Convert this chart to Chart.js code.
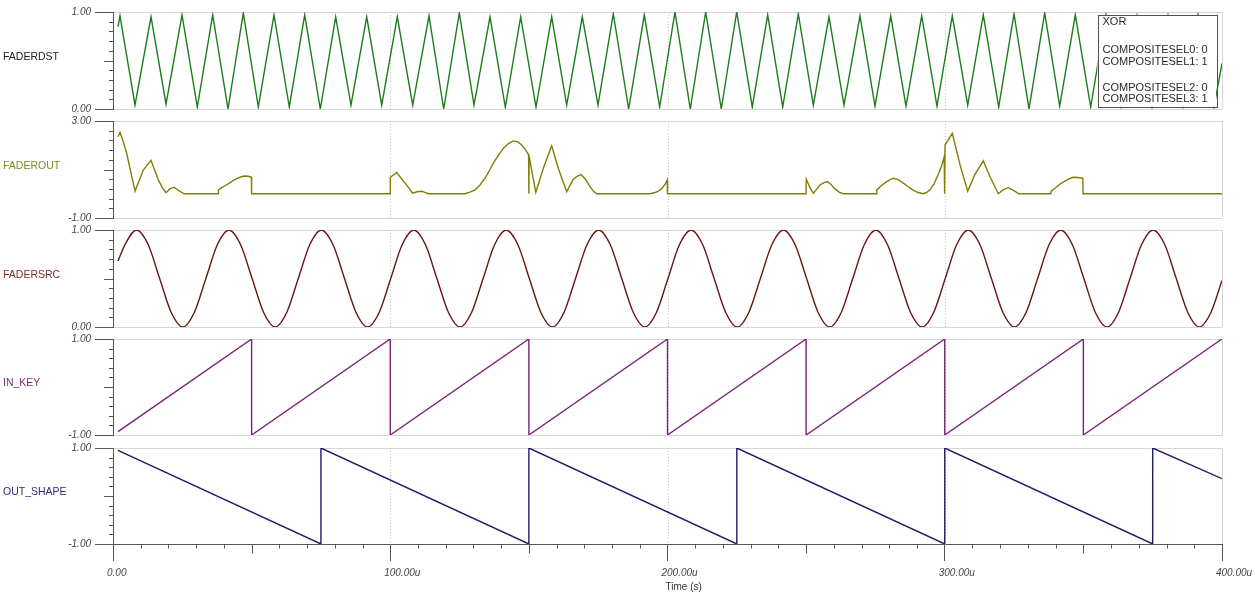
<!DOCTYPE html>
<html>
<head>
<meta charset="utf-8">
<script src="https://cdn.jsdelivr.net/npm/chart.js@4.4.0/dist/chart.umd.min.js"></script>
<style>
html,body{margin:0;padding:0;background:#fff;width:1255px;height:600px;overflow:hidden;}
canvas{position:absolute;left:0;}
</style>
</head>
<body>
<canvas id="c0"></canvas>
<canvas id="c1"></canvas>
<canvas id="c2"></canvas>
<canvas id="c3"></canvas>
<canvas id="c4"></canvas>
<script>
// ---------------- DATA ----------------
const timeTicks = [0, 100, 200, 300, 400];
const timeTickLabels = ['0.00', '100.00u', '200.00u', '300.00u', '400.00u'];
const timeTitle = 'Time (s)';
const gridTimes = [100, 200, 300];

const panelNames = ['FADERDST', 'FADEROUT', 'FADERSRC', 'IN_KEY', 'OUT_SHAPE'];
const panelMin = [0, -1, 0, -1, -1];
const panelMax = [1, 3, 1, 1, 1];

const legendLines = ['XOR', 'COMPOSITESEL0: 0', 'COMPOSITESEL1: 1', 'COMPOSITESEL2: 0', 'COMPOSITESEL3: 1'];

// FADERDST (triangle wave, vertices)
const dstT = [1.8, 2.52,7.94, 13.71,19.12, 24.89,30.41, 35.96,41.48, 47.00,52.41, 58.07,63.59, 69.14,74.77,
  80.32,85.84, 91.51,96.92, 102.54,108.10, 113.98,119.28, 124.90,130.21, 135.98,141.50, 147.05,152.57,
  158.23,163.64, 169.27,174.93, 180.45,186.00, 191.63,197.18, 202.70,208.22, 213.78,219.40, 224.96,230.58,
  236.14,241.55, 247.18,252.59, 258.25,263.66, 269.43,274.84, 280.51,286.02, 291.69,297.20, 302.72,308.28,
  313.90,319.46, 324.98,330.39, 336.05,341.46, 347.09,352.64, 358.16,363.57, 369.34,374.75, 380.52,385.93,
  391.34,397.11, 400];
const dstV = [0.85,
  0.96,0.04, 0.95,0.05, 0.97,0.02, 0.97,0.00, 0.99,0.02, 0.97,0.02, 0.97,0.00, 0.95,0.04, 0.95,0.04,
  0.95,0.04, 0.96,0.00, 0.99,0.04, 0.95,0.02, 0.95,0.02, 0.95,0.04, 0.95,0.04, 0.98,0.00, 0.97,0.02,
  1.00,0.00, 1.00,0.00, 1.00,0.02, 0.97,0.02, 0.98,0.04,
  0.95,0.04, 0.96,0.03, 0.96,0.03, 0.96,0.03, 0.96,0.04, 0.97,0.02, 0.98,0.00, 0.99,0.03, 0.97,0.02,
  0.97,0.03, 0.96,0.02, 0.96,0.03, 0.97,0.02,
  0.47];

// FADEROUT
const outT = [1.8, 2.52, 3.70, 4.94, 6.40, 7.94, 10.93, 13.71, 16.35, 17.80, 19.12, 20.56, 22.00, 23.50, 25.61,
  37.98, 38.05, 39.20, 40.50, 41.80, 43.00, 44.40, 45.80, 46.70, 47.60, 48.80, 49.90, 50.00,
  99.95, 100.02, 102.33, 103.52, 105.32, 108.10, 109.70, 111.34, 112.50, 113.72,
  126.96, 128.76, 130.57, 132.40, 134.18, 135.70, 137.17, 139.00, 140.78, 142.60, 144.38, 146.00, 147.41, 148.60,
  149.57, 149.90, 150.00, 150.10,
  152.48, 155.37, 158.23, 160.60, 163.64, 166.00, 167.40, 168.80, 170.40, 172.05, 173.30, 174.46,
  193.69, 195.20, 196.57, 197.60, 198.38, 199.20, 199.90, 200.00,
  249.95, 250.05, 251.40, 252.59, 253.92, 255.01, 256.30, 257.63, 259.00, 260.41, 261.90, 263.41,
  275.40, 275.50, 277.00, 278.45, 280.00, 281.44, 283.20, 284.94, 286.70, 288.55, 290.40, 292.26,
  293.50, 294.68, 296.20, 297.67, 298.80, 299.80, 299.95, 300.10,
  302.72, 305.50, 308.28, 310.91, 313.90, 316.32, 319.31, 321.10, 322.92, 324.80, 326.78,
  338.20, 338.30, 340.00, 341.57, 343.50, 345.00, 346.37, 348.00, 349.80, 349.90, 400.00];
const outV = [2.35, 2.53, 2.15, 1.67, 0.90, 0.11, 0.98, 1.38, 0.57, 0.25, 0.04, 0.20, 0.27, 0.15, 0.00,
  0.00, 0.16, 0.25, 0.33, 0.43, 0.52, 0.61, 0.68, 0.71, 0.73, 0.72, 0.68, 0.00,
  0.00, 0.68, 0.88, 0.70, 0.45, 0.02, 0.08, 0.10, 0.06, 0.00,
  0.00, 0.07, 0.16, 0.36, 0.64, 0.94, 1.26, 1.58, 1.87, 2.07, 2.18, 2.14, 2.01, 1.85,
  1.67, 1.62, 0.00, 1.55,
  0.06, 1.10, 1.98, 1.05, 0.08, 0.60, 0.72, 0.79, 0.60, 0.29, 0.10, 0.00,
  0.00, 0.04, 0.10, 0.18, 0.28, 0.41, 0.57, 0.00,
  0.00, 0.60, 0.25, 0.02, 0.20, 0.36, 0.45, 0.50, 0.38, 0.20, 0.07, 0.00,
  0.00, 0.16, 0.32, 0.45, 0.56, 0.64, 0.58, 0.45, 0.30, 0.15, 0.05, 0.00,
  0.06, 0.16, 0.42, 0.80, 1.12, 1.53, 0.00, 2.01,
  2.49, 1.20, 0.11, 0.80, 1.36, 0.70, 0.00, 0.17, 0.25, 0.14, 0.00,
  0.00, 0.10, 0.25, 0.40, 0.53, 0.62, 0.68, 0.67, 0.64, 0.00, 0.00];

// FADERSRC (sine-like wave, read at eighth-period points)
const srcT = [1.8,
  4.33, 8.50, 12.67, 16.83, 21.00, 25.17, 29.33, 33.50, 37.67, 41.83, 46.00, 50.17, 54.33, 58.50, 62.67, 66.83,
  71.00, 75.17, 79.33, 83.50, 87.67, 91.83, 96.00, 100.17, 104.33, 108.50, 112.67, 116.83, 121.00, 125.17, 129.33, 133.50,
  137.67, 141.83, 146.00, 150.17, 154.33, 158.50, 162.67, 166.83, 171.00, 175.17, 179.33, 183.50, 187.67, 191.83, 196.00, 200.17,
  204.33, 208.50, 212.67, 216.83, 221.00, 225.17, 229.33, 233.50, 237.67, 241.83, 246.00, 250.17, 254.33, 258.50, 262.67, 266.83,
  271.00, 275.17, 279.33, 283.50, 287.67, 291.83, 296.00, 300.17, 304.33, 308.50, 312.67, 316.83, 321.00, 325.17, 329.33, 333.50,
  337.67, 341.83, 346.00, 350.17, 354.33, 358.50, 362.67, 366.83, 371.00, 375.17, 379.33, 383.50, 387.67, 391.83, 396.00,
  400];
const srcV = [0.68,
  0.85, 1.00, 0.85, 0.50, 0.15, 0.00, 0.15, 0.50, 0.85, 1.00, 0.85, 0.50, 0.15, 0.00, 0.15, 0.50,
  0.85, 1.00, 0.85, 0.50, 0.15, 0.00, 0.15, 0.50, 0.85, 1.00, 0.85, 0.50, 0.15, 0.00, 0.15, 0.50,
  0.85, 1.00, 0.85, 0.50, 0.15, 0.00, 0.15, 0.50, 0.85, 1.00, 0.85, 0.50, 0.15, 0.00, 0.15, 0.50,
  0.85, 1.00, 0.85, 0.50, 0.15, 0.00, 0.15, 0.50, 0.85, 1.00, 0.85, 0.50, 0.15, 0.00, 0.15, 0.50,
  0.85, 1.00, 0.85, 0.50, 0.15, 0.00, 0.15, 0.50, 0.85, 1.00, 0.85, 0.50, 0.15, 0.00, 0.15, 0.50,
  0.85, 1.00, 0.85, 0.50, 0.15, 0.00, 0.15, 0.50, 0.85, 1.00, 0.85, 0.50, 0.15, 0.00, 0.15,
  0.48];

// IN_KEY (rising sawtooth)
const keyT = [1.8, 50, 50, 100, 100, 150, 150, 200, 200, 250, 250, 300, 300, 350, 350, 400];
const keyV = [-0.93, 1, -1, 1, -1, 1, -1, 1, -1, 1, -1, 1, -1, 1, -1, 1];

// OUT_SHAPE (falling sawtooth)
const shapeT = [1.8, 75, 75, 150, 150, 225, 225, 300, 300, 375, 375, 400];
const shapeV = [0.95, -1, 1, -1, 1, -1, 1, -1, 1, -1, 1, 0.36];

// ---------------- STYLE / LAYOUT ----------------
const FONT = '"Liberation Sans", Arial, sans-serif';
const lineColors = ['#1c7d1c', '#7f7f05', '#6b1515', '#78227a', '#1c1c6c'];
const nameColors = ['#222222', '#85852a', '#7a2e2e', '#7b2d7b', '#2e2e7a'];
const PANEL_TOP = [12, 121, 230, 339, 448];
const PANEL_BOTTOM = [109, 218, 327, 435, 544];
const GRID = '#d6d6d6';
const AXIS = '#555555';
const legendLineY = [6.4, 34.4, 46.4, 72.7, 83.9];

const seriesT = [dstT, outT, srcT, keyT, shapeT];
const seriesV = [dstV, outV, srcV, keyV, shapeV];

function pts(ts, vs) { return ts.map((t, i) => ({ x: t, y: vs[i] })); }

const decor = {
  id: 'decor',
  beforeDatasetsDraw(chart, args, o) {
    const { ctx, chartArea: a, scales } = chart;
    const x = scales.x, y = scales.y;
    ctx.save();
    ctx.lineWidth = 1;
    ctx.strokeStyle = GRID;
    const rx = Math.round(a.right) + 0.5;
    ctx.beginPath(); ctx.moveTo(rx, a.top); ctx.lineTo(rx, a.bottom); ctx.stroke();
    ctx.strokeStyle = '#c4c4c4';
    ctx.setLineDash([1, 2]);
    gridTimes.forEach(t => {
      const px = Math.round(x.getPixelForValue(t)) + 0.5;
      ctx.beginPath(); ctx.moveTo(px, a.top); ctx.lineTo(px, a.bottom); ctx.stroke();
    });
    ctx.setLineDash([]);
    ctx.strokeStyle = AXIS;
    for (let i = 1; i < 10; i++) {
      const v = y.min + i * (y.max - y.min) / 10;
      const py = Math.round(y.getPixelForValue(v)) + 0.5;
      const len = i === 5 ? 9 : 4;
      ctx.beginPath(); ctx.moveTo(a.left - len, py); ctx.lineTo(a.left, py); ctx.stroke();
    }
    if (o.xMinor) {
      const by = Math.round(a.bottom) + 0.5;
      for (let t = 10; t < 400; t += 10) {
        if (t % 100 === 0) continue;
        const px = Math.round(x.getPixelForValue(t)) + 0.5;
        const len = t % 50 === 0 ? 9 : 4;
        ctx.beginPath(); ctx.moveTo(px, by); ctx.lineTo(px, by + len); ctx.stroke();
      }
    }
    ctx.restore();
  },
  afterDraw(chart, args, o) {
    const { ctx, chartArea: a, scales } = chart;
    ctx.save();
    ctx.font = '10.5px ' + FONT;
    ctx.fillStyle = o.color;
    ctx.textAlign = 'left';
    ctx.textBaseline = 'middle';
    ctx.fillText(o.name, 3, (a.top + a.bottom) / 2 - 3.6);
    if (o.xMinor) {
      ctx.font = '10px ' + FONT;
      ctx.fillStyle = '#333';
      ctx.fillText(timeTitle, scales.x.getPixelForValue(200) - 2, a.bottom + 43);
    }
    if (o.legend) {
      const bx = a.right - 124.5, by = a.top + 3.3, bw = 118.5, bh = 91.5;
      ctx.fillStyle = '#ffffff';
      ctx.fillRect(bx, by, bw, bh);
      ctx.strokeStyle = '#505050';
      ctx.lineWidth = 1;
      ctx.strokeRect(Math.round(bx) + 0.5, Math.round(by) + 0.5, Math.round(bw), Math.round(bh));
      ctx.fillStyle = '#2a2a2a';
      ctx.font = '11px ' + FONT;
      legendLines.forEach((s, i) => ctx.fillText(s, bx + 5, by + legendLineY[i]));
    }
    ctx.restore();
  }
};

for (let k = 0; k < 5; k++) {
  const last = k === 4;
  const cv = document.getElementById('c' + k);
  const top = PANEL_TOP[k] - 10;
  const h = last ? 600 - top : PANEL_BOTTOM[k] - PANEL_TOP[k] + 20;
  cv.style.top = top + 'px';
  cv.width = 1255; cv.height = h;
  cv.style.width = '1255px'; cv.style.height = h + 'px';

  const xScale = last ? {
    type: 'linear', min: 0, max: 400, position: 'bottom',
    afterBuildTicks: s => { s.ticks = timeTicks.map(v => ({ value: v })); },
    afterFit: s => { s.height = 56; s.paddingLeft = 0; s.paddingRight = 0; },
    ticks: {
      autoSkip: false, maxRotation: 0, minRotation: 0, align: 'start', labelOffset: -6, padding: 6,
      color: '#444', font: { family: FONT, size: 10, style: 'italic' },
      callback: (v) => timeTickLabels[timeTicks.indexOf(v)]
    },
    grid: { drawOnChartArea: false, tickLength: 17, tickColor: AXIS, color: AXIS, lineWidth: 1 },
    border: { display: true, color: AXIS, width: 1 }
  } : { type: 'linear', min: 0, max: 400, display: false };

  new Chart(cv, {
    type: 'line',
    data: {
      datasets: [{
        label: panelNames[k],
        data: pts(seriesT[k], seriesV[k]),
        borderColor: lineColors[k],
        borderWidth: 1.4,
        pointRadius: 0,
        fill: false,
        tension: 0,
        cubicInterpolationMode: k === 2 ? 'monotone' : 'default'
      }]
    },
    options: {
      responsive: false,
      animation: false,
      events: [],
      layout: { padding: { left: 0, right: 33, top: 10, bottom: last ? 0 : 10 } },
      scales: {
        x: xScale,
        y: {
          type: 'linear', min: panelMin[k], max: panelMax[k], position: 'left',
          afterBuildTicks: s => { s.ticks = [{ value: panelMin[k] }, { value: panelMax[k] }]; },
          afterFit: s => { s.width = 113; },
          ticks: {
            padding: 4, color: '#444',
            font: { family: FONT, size: 10, style: 'italic' },
            callback: v => Number(v).toFixed(2)
          },
          grid: {
            color: c => (last && c.tick && c.tick.value === panelMin[k]) ? 'rgba(0,0,0,0)' : GRID,
            tickColor: AXIS, tickLength: 18, lineWidth: 1
          },
          border: { display: true, color: AXIS, width: 1 }
        }
      },
      plugins: {
        legend: { display: false },
        tooltip: { enabled: false },
        decor: { name: panelNames[k], color: nameColors[k], xMinor: last, legend: k === 0 }
      }
    },
    plugins: [decor]
  });
}
</script>
</body>
</html>
